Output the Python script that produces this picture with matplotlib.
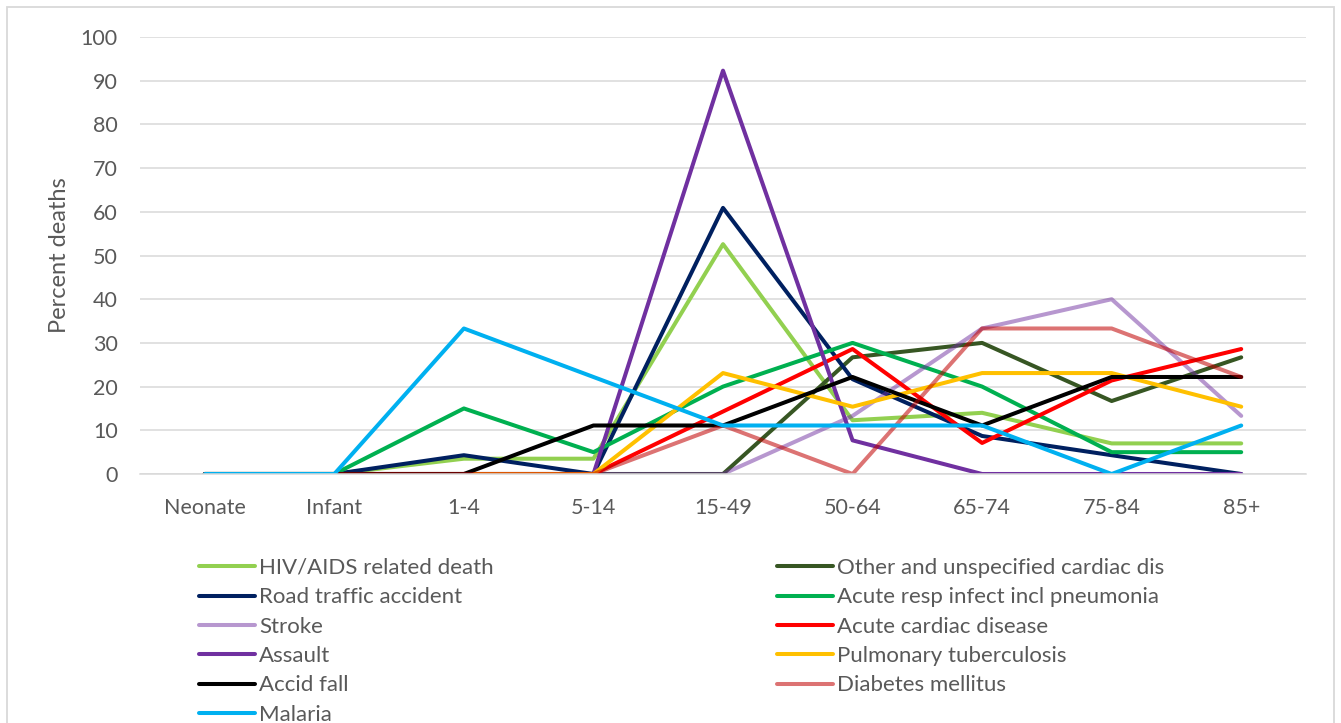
import matplotlib
matplotlib.use("Agg")
import matplotlib.pyplot as plt
from matplotlib.patches import Rectangle

# === Data: percent of deaths by age group ===
age_groups = ["Neonate", "Infant", "1-4", "5-14", "15-49", "50-64", "65-74", "75-84", "85+"]

hiv_aids = [0, 0, 3.5, 3.5, 52.6, 12.3, 14.0, 7.0, 7.0]
other_cardiac = [0, 0, 0, 0, 0, 26.7, 30.0, 16.7, 26.7]
road_traffic = [0, 0, 4.3, 0, 60.9, 21.7, 8.7, 4.3, 0]
acute_resp = [0, 0, 15.0, 5.0, 20.0, 30.0, 20.0, 5.0, 5.0]
stroke = [0, 0, 0, 0, 0, 13.3, 33.3, 40.0, 13.3]
acute_cardiac = [0, 0, 0, 0, 14.3, 28.6, 7.1, 21.4, 28.6]
assault = [0, 0, 0, 0, 92.3, 7.7, 0, 0, 0]
pulmonary_tb = [0, 0, 0, 0, 23.1, 15.4, 23.1, 23.1, 15.4]
accid_fall = [0, 0, 0, 11.1, 11.1, 22.2, 11.1, 22.2, 22.2]
diabetes = [0, 0, 0, 0, 11.1, 0, 33.3, 33.3, 22.2]
malaria = [0, 0, 33.3, 22.2, 11.1, 11.1, 11.1, 0, 11.1]

# (label, values, colour, alpha) in drawing order
series = [
    ("HIV/AIDS related death", hiv_aids, "#92D050", 1.0),
    ("Other and unspecified cardiac dis", other_cardiac, "#375623", 1.0),
    ("Road traffic accident", road_traffic, "#002060", 1.0),
    ("Acute resp infect incl pneumonia", acute_resp, "#00B050", 1.0),
    ("Stroke", stroke, "#7030A0", 0.5),
    ("Acute cardiac disease", acute_cardiac, "#FF0000", 1.0),
    ("Assault", assault, "#7030A0", 1.0),
    ("Pulmonary tuberculosis", pulmonary_tb, "#FFC000", 1.0),
    ("Accid fall", accid_fall, "#000000", 1.0),
    ("Diabetes mellitus", diabetes, "#C00000", 0.55),
    ("Malaria", malaria, "#00B0F0", 1.0),
]

TEXT = "#595959"
GRID = "#D9D9D9"
FS = 16
plt.rcParams["font.family"] = ["Lato", "DejaVu Sans"]

W, H = 1341, 723
fig = plt.figure(figsize=(W / 100, H / 100), dpi=100)
ax = fig.add_axes([140 / W, 1 - 474 / H, (1306 - 140) / W, (474 - 37) / H])

x = list(range(len(age_groups)))
handles = {}
for label, vals, color, alpha in series:
    (ln,) = ax.plot(x, vals, color=color, alpha=alpha, lw=2.9,
                    solid_joinstyle="round", solid_capstyle="round", label=label)
    handles[label] = ln

ax.set_xlim(-0.5, len(age_groups) - 0.5)
ax.set_ylim(0, 100)
ax.set_yticks(range(0, 101, 10))
ax.set_xticks(x)
ax.set_xticklabels(age_groups)
ax.grid(axis="y", color=GRID, lw=1.1)
ax.set_axisbelow(True)
for side in ["left", "right", "top"]:
    ax.spines[side].set_visible(False)
ax.spines["bottom"].set_color(GRID)
ax.spines["bottom"].set_linewidth(1.1)
ax.tick_params(axis="both", length=0, labelsize=15.5, labelcolor=TEXT)
ax.tick_params(axis="y", pad=16)
ax.tick_params(axis="x", pad=17)
ax.set_ylabel("Percent deaths", fontsize=17, color=TEXT, va="center")
ax.yaxis.set_label_coords(-(140 - 59) / (1306 - 140), 0.5)

# two legend columns placed separately
names = [s[0] for s in series]
legend_kw = dict(loc="upper left", frameon=False, fontsize=FS, labelcolor=TEXT,
                 handlelength=2.5, handletextpad=0.2, labelspacing=0.42,
                 borderpad=0, borderaxespad=0)
left_col = names[0::2]
right_col = names[1::2]
fig.legend([handles[k] for k in left_col], left_col,
           bbox_to_anchor=(199 / W, 1 - 558 / H), **legend_kw)
fig.legend([handles[k] for k in right_col], right_col,
           bbox_to_anchor=(777 / W, 1 - 558 / H), **legend_kw)

# chart frame
fig.patches.append(Rectangle((7 / W, -0.05), (1334 - 7) / W, 1.05 - 7 / H,
                             transform=fig.transFigure, fill=False,
                             edgecolor=GRID, lw=1.3))

fig.savefig("out.png", dpi=100)
